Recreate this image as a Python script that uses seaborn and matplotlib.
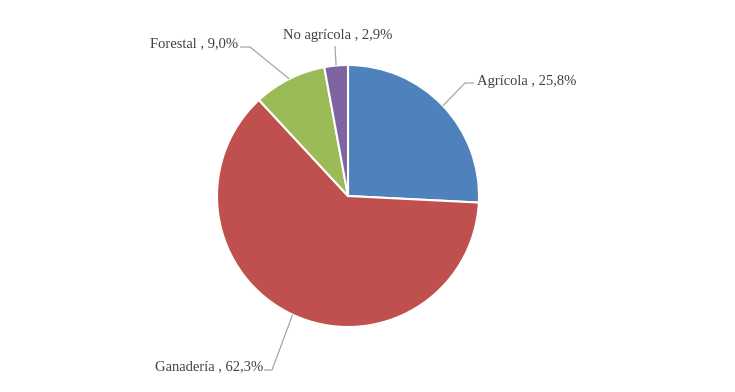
import matplotlib
matplotlib.use("Agg")
import matplotlib.pyplot as plt
import seaborn as sns
import numpy as np

categories = ["Agrícola", "Ganadería", "Forestal", "No agrícola"]
values = [25.8, 62.3, 9.0, 2.9]
colors = ["#4F81BD", "#C0504D", "#9BBB59", "#8064A2"]

# label text (left x, center y, in pixels from top) and leader elbow points
label_pos = [(477, 81), (155, 367), (150, 44), (283, 35)]
elbows = [[(465, 83), (474, 83)], [(272, 370), (264, 370)],
          [(250, 47), (240, 47)], [(335, 46)]]

sns.set_theme(style="white")
plt.rcParams["font.family"] = ["Liberation Serif", "DejaVu Serif"]

W, H = 735, 392
fig = plt.figure(figsize=(W / 100, H / 100), dpi=100)
ax = fig.add_axes([0, 0, 1, 1])
ax.set_xlim(0, W)
ax.set_ylim(0, H)
ax.set_aspect("equal")
ax.axis("off")

cx, cy, r = 348, 196, 131
wedges, _ = ax.pie(values, colors=sns.color_palette(colors), startangle=90,
                   counterclock=False, center=(cx, H - cy), radius=r,
                   wedgeprops=dict(edgecolor="white", linewidth=1.5))
ax.set_xlim(0, W)
ax.set_ylim(0, H)

for w, cat, val, (tx, ty), elb in zip(wedges, categories, values, label_pos, elbows):
    mid = np.deg2rad((w.theta1 + w.theta2) / 2)
    px, py = cx + r * np.cos(mid), (H - cy) + r * np.sin(mid)
    xs = [px] + [e[0] for e in elb]
    ys = [py] + [H - e[1] for e in elb]
    ax.plot(xs, ys, color="#A6A6A6", linewidth=0.9, solid_capstyle="butt")
    txt = f"{cat} , {val:.1f}%".replace(".", ",")
    ax.text(tx, H - ty, txt, fontsize=10.5, color="#404040", ha="left", va="center")

fig.savefig("out.png", dpi=100)
